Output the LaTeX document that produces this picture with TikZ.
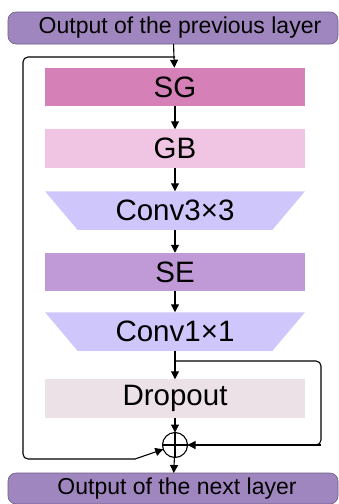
\documentclass[tikz,border=0pt]{standalone}
\usepackage{fontspec}
\setmainfont{Liberation Sans}
\usetikzlibrary{arrows.meta,calc}

\definecolor{headfill}{HTML}{A086BE}
\definecolor{headline}{HTML}{6E5C86}
\definecolor{sgfill}{HTML}{D580B6}
\definecolor{gbfill}{HTML}{F0C5E3}
\definecolor{convfill}{HTML}{CFC7FB}
\definecolor{sefill}{HTML}{C09AD6}
\definecolor{dropfill}{HTML}{EDE1E8}

\tikzset{
  x=1pt, y=1pt,
  layerbox/.style={draw=headline, line width=0.6pt, fill=headfill, rounded corners=8pt,
    minimum width=330pt, inner sep=0pt, outer sep=0pt, font=\fontsize{23}{25}\selectfont},
  block/.style={minimum width=260pt, minimum height=38.5pt, inner sep=0pt, outer sep=0pt,
    font=\fontsize{29.5}{31}\selectfont},
  trapblock/.style={block, path picture={
      \fill[convfill] (path picture bounding box.north west) -- (path picture bounding box.north east)
        -- ([xshift=-32.5pt]path picture bounding box.south east)
        -- ([xshift=32.5pt]path picture bounding box.south west) -- cycle;}},
  flow/.style={line width=1.1pt, -{Triangle[length=8pt, width=8pt]}},
  skip/.style={line width=1.1pt, rounded corners=5pt}
}

\begin{document}
\begin{tikzpicture}
\useasboundingbox (0,0) rectangle (339,-504);

\node[layerbox, minimum height=32pt] (prev) at (173,-28) {\hspace*{14pt}Output of the previous layer};
\node[block, fill=sgfill] (sg) at (175,-87) {SG};
\node[block, fill=gbfill] (gb) at (175,-148.5) {GB};
\node[trapblock] (c3) at (175,-210.5) {Conv3×3};
\node[block, fill=sefill] (se) at (175,-272) {SE};
\node[trapblock] (c1) at (175,-331.5) {Conv1×1};
\node[block, fill=dropfill] (drop) at (175,-398.5) {Dropout};
\node[draw, circle, line width=1.1pt, minimum size=25pt, inner sep=0pt, outer sep=0pt] (add) at (175,-445) {};
\draw[line width=1.1pt] (add.north) -- (add.south) (add.west) -- (add.east);
\node[layerbox, minimum height=31pt] (next) at (173,-488.5) {\hspace*{8pt}Output of the next layer};

\coordinate (split) at (175,-57);
\coordinate (branch) at (175,-361);
\coordinate (lturn) at (135,-459);
\coordinate (rturn) at (321,-445);

\draw[flow] (prev) -- (sg);
\draw[flow] (sg) -- (gb);
\draw[flow] (gb) -- (c3);
\draw[flow] (c3) -- (se);
\draw[flow] (se) -- (c1);
\draw[flow] (c1) -- (drop);
\draw[flow] (drop) -- (add);
\draw[flow] (add) -- (next);

% identity path on the left
\draw[skip] (split) -| (23,-459) -- (lturn);
\draw[flow] (lturn) -- (add.200);
% shortcut from the Conv1x1 output on the right
\draw[skip] (branch) -| (rturn) -- (add.east);
\draw[flow] (rturn) -- (add.east);
\end{tikzpicture}
\end{document}
